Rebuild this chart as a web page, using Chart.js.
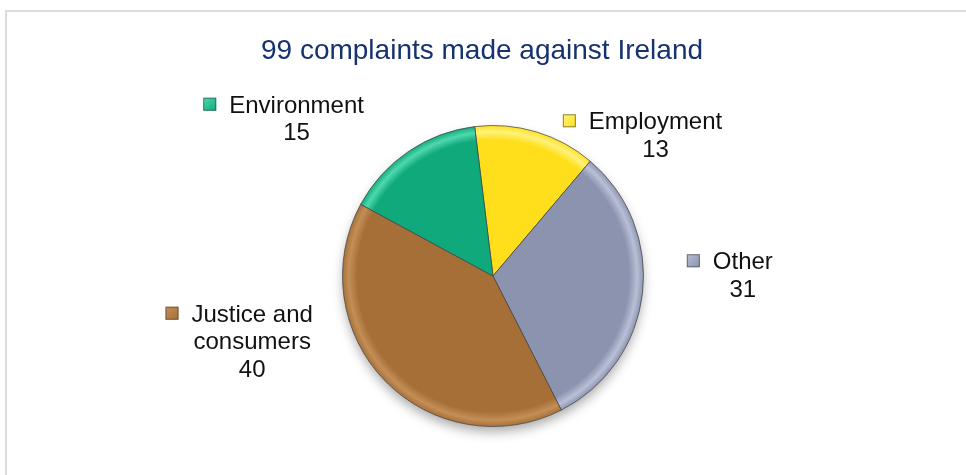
<!DOCTYPE html>
<html>
<head>
<meta charset="utf-8">
<script src="https://cdn.jsdelivr.net/npm/chart.js@4"></script>
<style>
  html, body { margin: 0; padding: 0; background: #fff; }
  #complaints { display: block; }
</style>
</head>
<body>
<canvas id="complaints" width="966" height="475"></canvas>
<script>
const title = "99 complaints made against Ireland";
const categories = ["Employment", "Other", "Justice and consumers", "Environment"];
const complaints = [13, 31, 40, 15];

const baseColors = ["#ffdf1c", "#8b93ae", "#a66f38", "#0fa97c"];
const rimColors = ["#fff27a", "#b8bfd6", "#c48e57", "#4fd8ae"];

// where each label block sits, relative to pie centre, in units of radius
const labelPos = [[1.08, -0.94], [1.66, -0.01], [-1.6, 0.43], [-1.305, -1.05]];

let canvas = document.querySelector("#complaints");
let ctx = canvas.getContext("2d");

function bevel(context) {
  let i = context.dataIndex;
  let area = context.chart.chartArea;
  if (!area) return baseColors[i];
  let cx = (area.left + area.right) / 2;
  let cy = (area.top + area.bottom) / 2;
  let r = Math.min(area.right - area.left, area.bottom - area.top) / 2;
  let g = context.chart.ctx.createRadialGradient(cx, cy, 0, cx, cy, r);
  g.addColorStop(0, baseColors[i]);
  g.addColorStop(0.9, baseColors[i]);
  g.addColorStop(0.955, rimColors[i]);
  g.addColorStop(1, baseColors[i]);
  return g;
}

const framePlugin = {
  id: "frame",
  beforeDraw(chart) {
    let c = chart.ctx;
    c.save();
    c.strokeStyle = "#dcdcdc";
    c.lineWidth = 2;
    c.strokeRect(6, 11, chart.width + 20, chart.height + 20);
    // chart title
    c.font = "28px 'Liberation Sans', Arial, sans-serif";
    c.fillStyle = "#17336f";
    c.textAlign = "center";
    c.textBaseline = "alphabetic";
    c.fillText(title, chart.width / 2 - 1, 58.5);
    c.restore();
  },
};

const shadowPlugin = {
  id: "pieShadow",
  beforeDatasetsDraw(chart) {
    let arc = chart.getDatasetMeta(0).data[0];
    if (!arc) return;
    let c = chart.ctx;
    c.save();
    c.shadowColor = "rgba(0,0,0,0.35)";
    c.shadowBlur = 12;
    c.shadowOffsetY = 6;
    c.fillStyle = "#888";
    c.beginPath();
    c.arc(arc.x, arc.y, arc.outerRadius - 1, 0, Math.PI * 2);
    c.fill();
    c.restore();
  },
};

function wrap(c, text, maxWidth) {
  let words = text.split(" ");
  let lines = [];
  let line = "";
  words.forEach((w) => {
    let test = line ? line + " " + w : w;
    if (line && c.measureText(test).width > maxWidth) {
      lines.push(line);
      line = w;
    } else {
      line = test;
    }
  });
  lines.push(line);
  return lines;
}

const labelPlugin = {
  id: "sliceLabels",
  afterDatasetsDraw(chart) {
    let c = chart.ctx;
    let meta = chart.getDatasetMeta(0);
    c.save();
    c.font = "24px 'Liberation Sans', Arial, sans-serif";
    c.fillStyle = "#111";
    c.textAlign = "center";
    c.textBaseline = "alphabetic";
    const lh = 27.5;
    meta.data.forEach((arc, i) => {
      let r = arc.outerRadius;
      let bx = arc.x + labelPos[i][0] * r;
      let by = arc.y + labelPos[i][1] * r;
      let lines = wrap(c, categories[i], 140);
      lines.push(String(complaints[i]));
      let top = by - ((lines.length - 1) * lh) / 2;
      lines.forEach((t, k) => {
        c.fillText(t, bx, top + k * lh + 8.5);
      });
      // legend key in front of the first line
      let w = c.measureText(lines[0]).width;
      let sx = bx - w / 2 - 13 - 13;
      let sy = top - 6.5;
      let g = c.createLinearGradient(sx, sy, sx + 13, sy + 13);
      g.addColorStop(0, rimColors[i]);
      g.addColorStop(1, baseColors[i]);
      c.fillStyle = g;
      c.fillRect(sx, sy, 13, 13);
      c.strokeStyle = "rgba(60,60,60,0.6)";
      c.lineWidth = 1;
      c.strokeRect(sx + 0.5, sy + 0.5, 12, 12);
      c.fillStyle = "#111";
    });
    c.restore();
  },
};

new Chart(ctx, {
  type: "pie",
  data: {
    labels: categories,
    datasets: [
      {
        data: complaints,
        backgroundColor: bevel,
        borderColor: "rgba(70,70,70,0.75)",
        borderWidth: 1,
        hoverOffset: 0,
      },
    ],
  },
  options: {
    responsive: false,
    devicePixelRatio: 1,
    animation: false,
    rotation: -7,
    layout: {
      padding: { left: 200, right: 180, top: 125, bottom: 48 },
    },
    plugins: {
      legend: { display: false },
      tooltip: { enabled: false },
      title: { display: false },
    },
  },
  plugins: [framePlugin, shadowPlugin, labelPlugin],
});
</script>
</body>
</html>
